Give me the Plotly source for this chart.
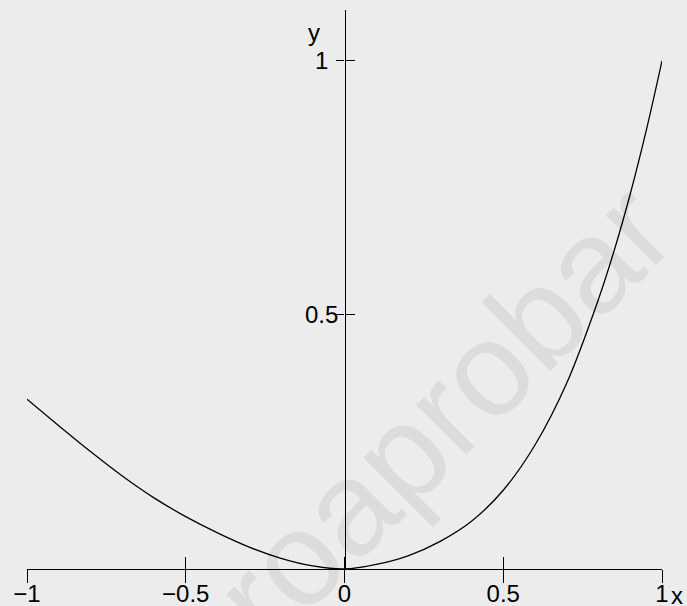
import plotly.graph_objects as go

# ---- data ----
x_vals = [-1.0, -0.9, -0.8, -0.7, -0.6, -0.5, -0.4, -0.3, -0.2, -0.1, 0.0,
          0.1, 0.2, 0.3, 0.4, 0.5, 0.6, 0.7, 0.8, 0.85, 0.9, 0.95, 1.0]
y_vals = [0.334, 0.282, 0.231, 0.183, 0.140, 0.103, 0.071, 0.043, 0.021, 0.006, 0.0,
          0.009, 0.026, 0.054, 0.094, 0.155, 0.244, 0.366, 0.531, 0.628, 0.738, 0.862, 1.0]

x_ticks = [-1, -0.5, 0, 0.5, 1]
x_tick_labels = ["\u22121", "\u22120.5", "0", "0.5", "1"]
y_ticks = [0.5, 1]
y_tick_labels = ["0.5", "1"]
x_range = [-1, 1]
y_range = [0, 1.10]

FONT = "Liberation Sans, Arial, Helvetica, sans-serif"
BG = "#ececec"

fig = go.Figure()
fig.add_trace(go.Scatter(x=x_vals, y=y_vals, mode="lines", line_shape="spline",
                         line=dict(color="black", width=1.3), showlegend=False,
                         hoverinfo="skip"))
# empty trace so the overlay axes (used for the crossing half of each tick) get drawn
fig.add_trace(go.Scatter(x=[None], y=[None], xaxis="x2", yaxis="y2", mode="lines",
                         showlegend=False, hoverinfo="skip"))

common = dict(showgrid=False, zeroline=False, automargin=False, fixedrange=True)
fig.update_layout(
    width=687, height=606,
    margin=dict(l=27, r=25, t=10, b=37, autoexpand=False),
    paper_bgcolor=BG, plot_bgcolor=BG,
    font=dict(family=FONT, size=24, color="black"),
    xaxis=dict(range=x_range, tickvals=x_ticks, ticktext=x_tick_labels,
               showline=True, linecolor="black", linewidth=1.3,
               ticks="outside", ticklen=12.5, tickwidth=1.3, tickcolor="black",
               ticklabelstandoff=-9,
               tickfont=dict(family=FONT, size=24), anchor="y", **common),
    xaxis2=dict(range=x_range, tickvals=x_ticks, overlaying="x", anchor="y2",
                showline=False, showticklabels=False,
                ticks="inside", ticklen=12.5, tickwidth=1.3, tickcolor="black", **common),
    yaxis=dict(range=y_range, tickvals=y_ticks, showticklabels=False,
               anchor="free", position=0.5,
               showline=True, linecolor="black", linewidth=1.3,
               ticks="outside", ticklen=8, tickwidth=1.3, tickcolor="black", **common),
    yaxis2=dict(range=y_range, tickvals=y_ticks, showticklabels=False,
                overlaying="y", anchor="free", position=0.5, showline=False,
                ticks="inside", ticklen=9, tickwidth=1.3, tickcolor="black", **common),
)

annotations = []
for v, t in zip(y_ticks, y_tick_labels):
    annotations.append(dict(x=0, y=v, xref="x", yref="y", text=t, showarrow=False,
                            xanchor="center", yanchor="middle", xshift=-22.6,
                            font=dict(family=FONT, size=24, color="black")))
annotations.append(dict(x=0, y=y_range[1], xref="x", yref="y", text="y", showarrow=False,
                        xanchor="center", yanchor="middle", xshift=-31, yshift=-22,
                        font=dict(family=FONT, size=24, color="black")))
annotations.append(dict(x=x_range[1], y=0, xref="x", yref="y", text="x", showarrow=False,
                        xanchor="center", yanchor="middle", xshift=15, yshift=-26,
                        font=dict(family=FONT, size=24, color="black")))
annotations.append(dict(x=0.655, y=0.28, xref="paper", yref="paper", text="roaprobar",
                        showarrow=False, textangle=-45, xanchor="center", yanchor="middle",
                        font=dict(family=FONT, size=134, color="rgba(0,0,0,0.065)")))
fig.update_layout(annotations=annotations)

fig.write_html("out.html", config={"displayModeBar": False},
               post_script="document.body.style.margin='0';document.body.style.overflow='hidden';")
